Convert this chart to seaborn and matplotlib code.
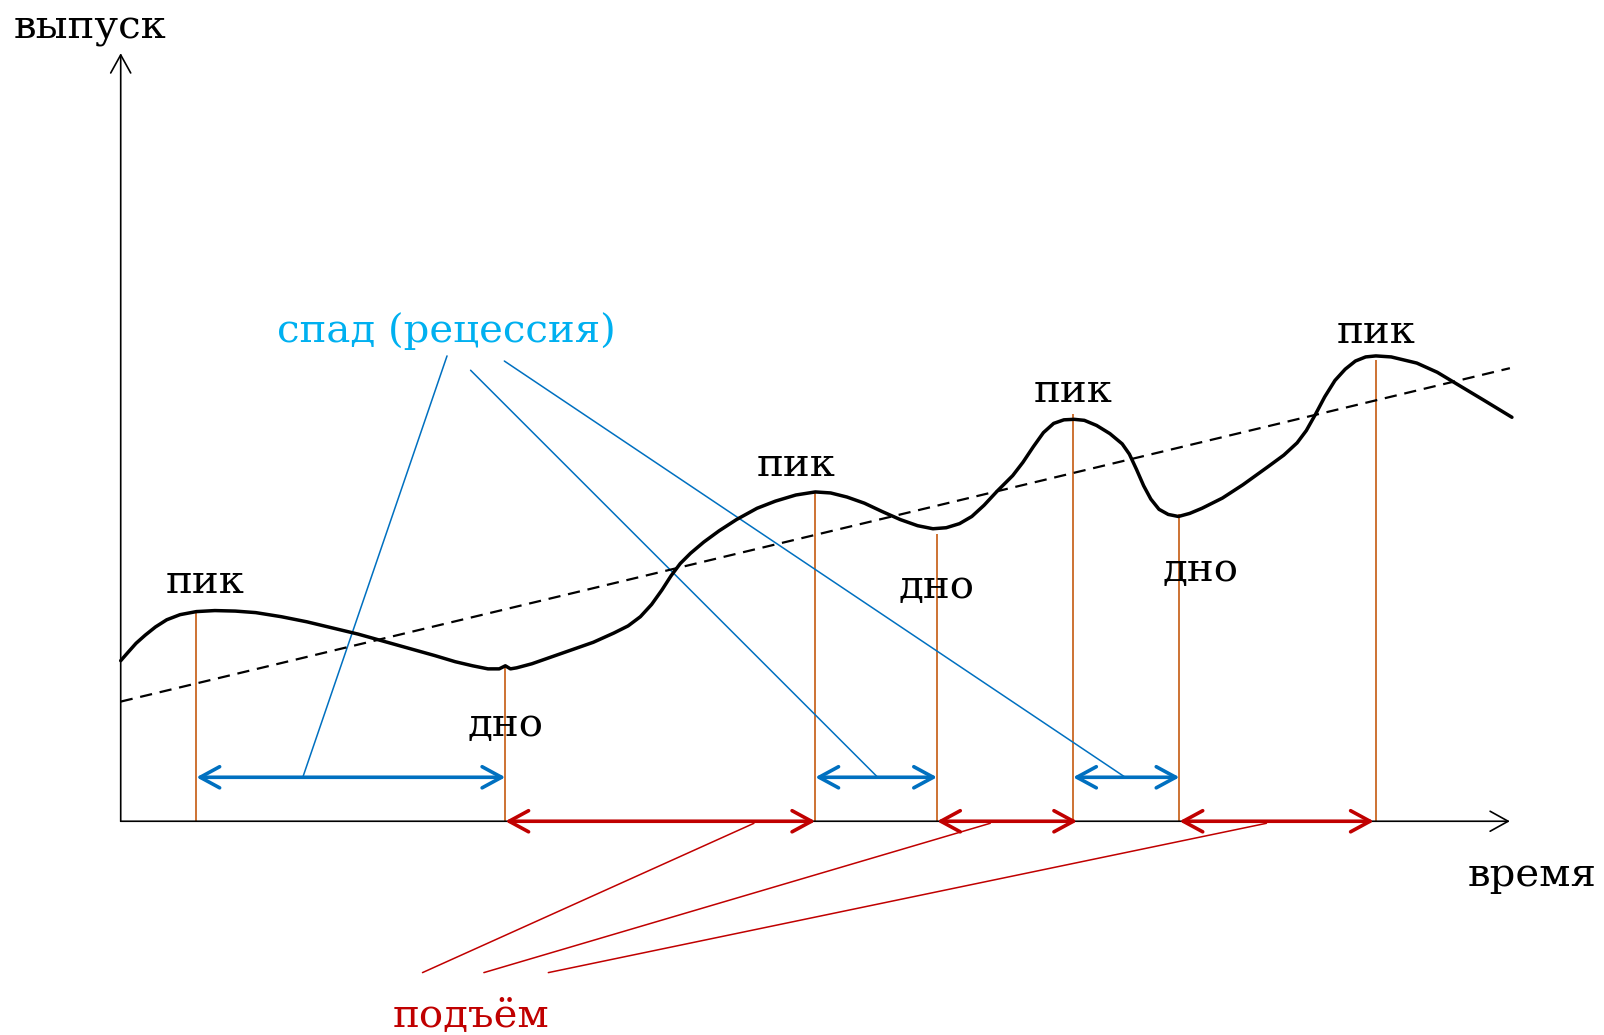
import pandas as pd
import seaborn as sns
import matplotlib.pyplot as plt
from matplotlib.patches import ArrowStyle

# output curve: t = time, v = output above the time axis
curve_t = [0, 7, 15, 24, 34, 45, 58, 74, 92, 112, 132, 157, 182, 207, 232, 257, 282,
           307, 327, 344, 359, 370, 376, 381, 387, 402, 422, 442, 462, 482, 496, 508,
           519, 529, 538, 547, 557, 570, 585, 602, 622, 640, 660, 679, 694, 710, 727,
           744, 762, 779, 794, 807, 820, 832, 844, 857, 872, 882, 892, 902, 912, 922,
           932, 942, 954, 967, 979, 986, 993, 1000, 1007, 1015, 1024, 1034, 1045, 1057,
           1077, 1097, 1122, 1137, 1150, 1159, 1168, 1177, 1187, 1197, 1207, 1217, 1227,
           1242, 1267, 1287, 1307, 1332, 1360]
curve_v = [157, 165, 174, 182, 190, 197, 202, 205, 206, 205.5, 204, 200, 195, 189, 183,
           176, 169, 162, 156, 152, 149, 149, 152, 149, 150, 154, 161, 168, 175, 184, 191,
           200, 212, 226, 240, 252, 262, 273, 284, 295, 306, 313, 319, 322, 321, 317, 311,
           303, 295, 289, 286, 287, 291, 298, 309, 323, 338, 351, 366, 380, 389, 392.5,
           393, 392, 387, 379, 369, 359, 344, 328, 315, 305, 300, 298, 301, 306,
           316, 329, 347, 358, 370, 382, 398, 415, 431, 442, 450, 454, 455,
           454, 448, 439, 427, 412, 395]

# long-run trend (dashed)
trend_t = [0, 1358]
trend_v = [117, 443]

# peaks and troughs (marker lines go from the time axis up to the curve)
peak_t = [74, 679, 931, 1227]
peak_v = [205, 322, 398, 451]
trough_t = [376, 798, 1035]
trough_v = [151, 281, 300]

# recession (peak -> trough) and expansion (trough -> peak) spans
recession_start = [74, 679, 931]
recession_end = [376, 798, 1035]
expansion_start = [376, 798, 1035]
expansion_end = [679, 935, 1225]

# leader lines from the two captions
recession_from = [(319, 455), (342, 441), (375, 450)]
recession_to = [(178, 43), (740, 43), (982, 43)]
expansion_from = [(295, -148), (355, -148), (418, -148)]
expansion_to = [(619, -2), (850, -2), (1120, -2)]

peak_label_t = [82, 660, 931, 1227]
peak_label_v = [223, 338, 410, 468]
trough_label_t = [376, 797, 1056]
trough_label_v = [83, 218, 235]

BLUE = "#0070C0"
LIGHT_BLUE = "#00B0F0"
RED = "#C00000"
ORANGE = "#C55A11"

sns.set_theme(style="white")
plt.rcParams["font.family"] = ["DejaVu Serif"]

fig = plt.figure(figsize=(16.04, 10.35), dpi=100)
ax = fig.add_axes([0, 0, 1, 1])
ax.set_xlim(-118, 1450)
ax.set_ylim(-209, 803)
ax.axis("off")

# axes with arrow tips
axis_head = ArrowStyle("->", head_length=0.65, head_width=0.36)
ax.annotate("", xy=(0, 751), xytext=(0, 0),
            arrowprops=dict(arrowstyle=axis_head, lw=1.2, color="black",
                            mutation_scale=20, shrinkA=0, shrinkB=0))
ax.annotate("", xy=(1358, 0), xytext=(0, 0),
            arrowprops=dict(arrowstyle=axis_head, lw=1.2, color="black",
                            mutation_scale=20, shrinkA=0, shrinkB=0))

# marker lines at peaks and troughs
ax.vlines(peak_t, 0, peak_v, color=ORANGE, lw=1.2, zorder=2)
ax.vlines(trough_t, 0, trough_v, color=ORANGE, lw=1.2, zorder=2)

# trend and curve
sns.lineplot(x=trend_t, y=trend_v, ax=ax, color="black", lw=1.6,
             linestyle=(0, (5.5, 3.5)), zorder=3)
sns.lineplot(x=curve_t, y=curve_v, ax=ax, color="black", lw=2.5,
             sort=False, estimator=None, zorder=4,
             solid_joinstyle="round", solid_capstyle="round")

# double-headed span arrows
span_head = ArrowStyle("<->", head_length=0.7, head_width=0.38)
for a, b in zip(recession_start, recession_end):
    ax.annotate("", xy=(b, 43), xytext=(a, 43),
                arrowprops=dict(arrowstyle=span_head, lw=2.6, color=BLUE,
                                mutation_scale=20, shrinkA=0, shrinkB=0))
for a, b in zip(expansion_start, expansion_end):
    ax.annotate("", xy=(b, 0), xytext=(a, 0),
                arrowprops=dict(arrowstyle=span_head, lw=2.6, color=RED,
                                mutation_scale=20, shrinkA=0, shrinkB=0), zorder=5)

# leader lines
for (x0, y0), (x1, y1) in zip(recession_from, recession_to):
    ax.plot([x0, x1], [y0, y1], color=BLUE, lw=1.1)
for (x0, y0), (x1, y1) in zip(expansion_from, expansion_to):
    ax.plot([x0, x1], [y0, y1], color=RED, lw=1.1)

fs = 29
for t, v in zip(peak_label_t, peak_label_v):
    ax.text(t, v, "пик", ha="center", va="baseline", fontsize=fs, color="black")
for t, v in zip(trough_label_t, trough_label_v):
    ax.text(t, v, "дно", ha="center", va="baseline", fontsize=fs, color="black")

ax.text(-30, 765, "выпуск", ha="center", va="baseline", fontsize=fs, color="black")
ax.text(1380, -63, "время", ha="center", va="baseline", fontsize=fs, color="black")
ax.text(318, 469, "спад (рецессия)", ha="center", va="baseline", fontsize=fs,
        color=LIGHT_BLUE)
ax.text(342, -201, "подъём", ha="center", va="baseline", fontsize=fs, color=RED)

fig.savefig("out.png", dpi=100)
